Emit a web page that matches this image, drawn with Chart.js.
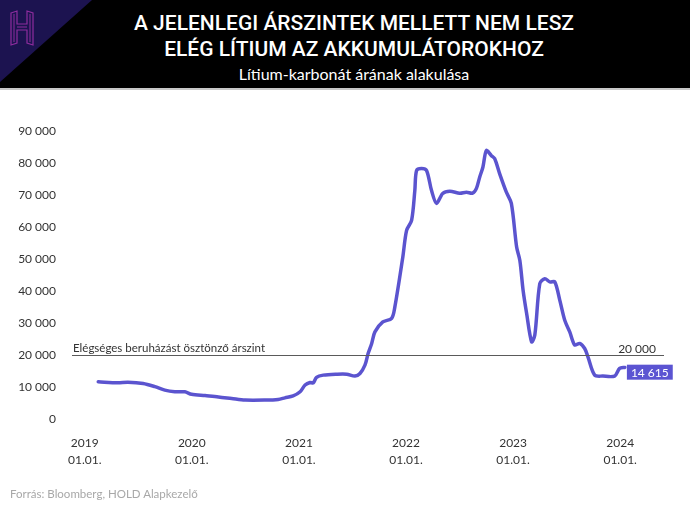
<!DOCTYPE html>
<html>
<head>
<meta charset="utf-8">
<script src="https://cdn.jsdelivr.net/npm/chart.js@4.4.1/dist/chart.umd.min.js"></script>
<style>
  html, body { margin: 0; padding: 0; background: #fff; }
  #wrap { position: relative; width: 690px; height: 510px; overflow: hidden; font-family: Lato, "Open Sans", sans-serif; }
  #head { position: absolute; left: 0; top: 0; width: 690px; height: 88px; background: #000; border-bottom: 2px solid #c8c8c8; }
  #logo { position: absolute; left: 0; top: 0; }
  #title { position: absolute; left: 0; width: 690px; top: 10px; text-align: center; color: #fff;
           font-family: Roboto, "DejaVu Sans Condensed", sans-serif; font-weight: 500;
           font-size: 21px; line-height: 26px; padding-left: 18px; box-sizing: border-box; }
  #sub { position: absolute; left: 0; width: 690px; top: 64px; text-align: center; color: #fff;
         font-size: 16px; padding-left: 18px; box-sizing: border-box; }
  #chartBox { position: absolute; left: 0; top: 90px; width: 690px; height: 420px; }
  #source { position: absolute; left: 10px; top: 487px; font-size: 11.5px; color: #a8a8a8; }
</style>
</head>
<body>
<div id="wrap">
  <div id="head">
    <svg id="logo" width="100" height="88">
      <polygon points="0,0 92,0 0,82" fill="#1c1350"/>
      <path d="M11,13 L17,11 L17,24 L27,24 L27,11 L33,13 L33,45 L27,43 L27,30 L17,30 L17,43 L11,45 Z"
            fill="none" stroke="#8e2d9e" stroke-width="1.2"/>
      <path d="M14,14 L14,42 M30,14 L30,42 M17,27 L27,27" fill="none" stroke="#8e2d9e" stroke-width="1"/>
    </svg>
    <div id="title">A JELENLEGI ÁRSZINTEK MELLETT NEM LESZ<br>ELÉG LÍTIUM AZ AKKUMULÁTOROKHOZ</div>
    <div id="sub">Lítium-karbonát árának alakulása</div>
  </div>
  <div id="chartBox"><canvas id="myChart"></canvas></div>
  <div id="source">Forrás: Bloomberg, HOLD Alapkezelő</div>
</div>
<script>
// lithium carbonate price (CNY/t)
const dates = [
  '2019-02-16','2019-04-24','2019-05-28','2019-07-19','2019-08-28','2019-10-01','2019-11-04','2019-12-08',
  '2019-12-31','2020-02-15','2020-04-01','2020-05-16','2020-07-01','2020-09-07','2020-10-22','2020-11-14',
  '2020-12-12','2021-01-05','2021-01-22','2021-02-08','2021-02-19','2021-03-02','2021-03-25','2021-05-10',
  '2021-06-13','2021-07-11','2021-07-28','2021-08-14','2021-08-25','2021-09-06','2021-09-17','2021-10-14',
  '2021-11-13','2021-11-24','2021-12-21','2022-01-03','2022-01-20','2022-01-31','2022-02-06','2022-02-23',
  '2022-03-12','2022-03-29','2022-04-15','2022-05-06','2022-05-30','2022-07-03','2022-07-26','2022-08-16',
  '2022-08-29','2022-09-09','2022-09-20','2022-10-02','2022-10-19','2022-10-30','2022-11-16','2022-12-09',
  '2022-12-26','2023-01-13','2023-01-24','2023-02-04','2023-02-16','2023-03-05','2023-03-16','2023-04-02',
  '2023-04-19','2023-05-06','2023-05-23','2023-06-09','2023-06-26','2023-07-13','2023-07-30','2023-08-16',
  '2023-09-02','2023-09-13','2023-10-06','2023-11-03','2023-12-13','2023-12-30','2024-01-17'
];
const prices = [
  11600, 11300, 11500, 11100, 10100, 9000, 8500, 8500,
  7700, 7300, 6900, 6400, 5900, 5900, 6100, 6600,
  7200, 8500, 10600, 11400, 11300, 13000, 13700, 14000,
  14000, 13400, 14200, 16800, 20500, 23600, 27200, 30300,
  31400, 35000, 50500, 58900, 62000, 71300, 77600, 78200,
  77600, 71300, 67300, 70400, 71100, 70500, 70800, 70500,
  72000, 75500, 78600, 83800, 82200, 81300, 76600, 70800,
  67300, 53700, 49500, 40200, 33000, 24100, 26200, 42300,
  43800, 42800, 42800, 37100, 30800, 27200, 23100, 23600,
  22000, 19400, 13700, 13400, 13400, 15800, 16100
];
const years = [2019, 2020, 2021, 2022, 2023, 2024];
const yTicks = [0, 10000, 20000, 30000, 40000, 50000, 60000, 70000, 80000, 90000];
const threshold = 20000;
const thresholdLabel = 'Elégséges beruházást ösztönző árszint';
const lastPrice = 14615;

function toYear(s) {
    const d = new Date(s + 'T00:00:00Z');
    const y = d.getUTCFullYear();
    return y + (d - Date.UTC(y, 0, 1)) / (Date.UTC(y + 1, 0, 1) - Date.UTC(y, 0, 1));
}
function fmt(v) {
    return String(v).replace(/\B(?=(\d{3})+(?!\d))/g, ' ');
}

const points = dates.map((d, i) => ({ x: toYear(d), y: prices[i] }));

// threshold line + labels + last value box
const overlay = {
    id: 'overlay',
    afterDatasetsDraw(chart) {
        const ctx = chart.ctx;
        const area = chart.chartArea;
        const ys = chart.scales.y;
        const xs = chart.scales.x;
        const ty = Math.round(ys.getPixelForValue(threshold)) + 0.5;
        ctx.save();
        ctx.strokeStyle = '#5a5a5a';
        ctx.lineWidth = 1;
        ctx.beginPath();
        ctx.moveTo(area.left, ty);
        ctx.lineTo(area.right, ty);
        ctx.stroke();
        ctx.fillStyle = '#333';
        ctx.font = '11.5px Lato';
        ctx.textBaseline = 'alphabetic';
        ctx.textAlign = 'left';
        ctx.fillText(thresholdLabel, area.left + 1, ty - 4);
        ctx.textAlign = 'right';
        ctx.font = '12px Lato';
        ctx.fillText(fmt(threshold), area.right - 8, ty - 3);

        const last = points[points.length - 1];
        const lx = xs.getPixelForValue(last.x) + 2;
        const ly = ys.getPixelForValue(lastPrice);
        ctx.font = '12px Lato';
        const w = ctx.measureText(fmt(lastPrice)).width + 8;
        ctx.fillStyle = '#5b54d2';
        ctx.fillRect(lx, ly - 7.5, w, 15);
        ctx.fillStyle = '#fff';
        ctx.textAlign = 'left';
        ctx.textBaseline = 'middle';
        ctx.fillText(fmt(lastPrice), lx + 4, ly + 0.5);
        ctx.restore();
    }
};

new Chart('myChart', {
    type: 'line',
    data: {
        datasets: [{
            data: points,
            borderColor: '#5b54cf',
            borderWidth: 3.5,
            pointRadius: 0,
            tension: 0.3,
            borderJoinStyle: 'round',
            borderCapStyle: 'round'
        }]
    },
    options: {
        responsive: true,
        maintainAspectRatio: false,
        animation: false,
        layout: { padding: { top: 40.7, right: 26, bottom: 0, left: 0 } },
        plugins: { legend: { display: false }, tooltip: { enabled: false } },
        scales: {
            x: {
                type: 'linear',
                min: 2018.881,
                max: 2024.409,
                afterBuildTicks: scale => { scale.ticks = years.map(v => ({ value: v })); },
                afterFit: scale => { scale.height = 91; },
                grid: { display: false, drawTicks: false },
                border: { display: false },
                ticks: {
                    padding: 16,
                    color: '#333',
                    font: { family: 'Lato', size: 12, lineHeight: 1.4 },
                    callback: v => [String(v), '01.01.']
                }
            },
            y: {
                min: 0,
                max: 90000,
                afterBuildTicks: scale => { scale.ticks = yTicks.map(v => ({ value: v })); },
                afterFit: scale => { scale.width = 72; },
                grid: { display: false, drawTicks: false },
                border: { display: false },
                ticks: {
                    padding: 16,
                    color: '#333',
                    font: { family: 'Lato', size: 12 },
                    callback: v => fmt(v)
                }
            }
        }
    },
    plugins: [overlay]
});
</script>
</body>
</html>
